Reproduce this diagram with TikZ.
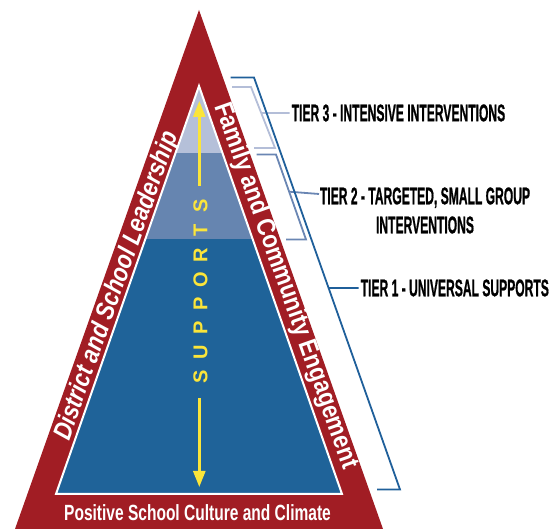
\documentclass[tikz,border=0pt]{standalone}
\usepackage{fontspec}
\setmainfont{Liberation Sans}
\newfontfamily\tierfont[FakeBold=1.3]{Liberation Sans Bold}
\usetikzlibrary{arrows.meta}
\definecolor{pyrred}{HTML}{A11D24}
\definecolor{tierone}{HTML}{1F6399}
\definecolor{tiertwo}{HTML}{6685B0}
\definecolor{tierthree}{HTML}{B5C0D9}
\definecolor{brone}{HTML}{1F5F9A}
\definecolor{brtwo}{HTML}{6A86B3}
\definecolor{brthree}{HTML}{B4BED8}
\definecolor{supyellow}{HTML}{FBE53A}
\begin{document}
\begin{tikzpicture}[x=1pt,y=-1pt,
  tierlabel/.style={font=\tierfont\fontsize{24}{29}\selectfont, text=black, inner sep=0pt, outer sep=2pt, align=center},
  bandtext/.style={text=white, inner sep=0pt},
  bracket/.style={line width=1.8pt, line join=miter},
  suparrow/.style={draw=supyellow, line width=2.6pt, -{Triangle[length=16pt,width=12pt]}},
  supletter/.style={text=supyellow, font=\bfseries\fontsize{20}{20}\selectfont, inner sep=0pt, rotate=90},
]
\useasboundingbox (0,0) rectangle (555,529);
% outer red triangle
\coordinate (apex) at (199,10);
\coordinate (bl) at (15,529);
\coordinate (br) at (383,529);
\fill[pyrred] (apex) -- (bl) -- (br) -- cycle;
% inner tiers
\coordinate (iapex) at (199,86);
\coordinate (ibl) at (56,494);
\coordinate (ibr) at (342,494);
\begin{scope}
  \clip (iapex) -- (ibl) -- (ibr) -- cycle;
  \fill[tierone] (0,239) rectangle (400,500);
  \fill[tiertwo] (0,153.5) rectangle (400,239);
  \fill[tierthree] (0,80) rectangle (400,153.5);
\end{scope}
\draw[white, line width=2pt, line join=miter] (iapex) -- (ibl) -- (ibr) -- cycle;

% band texts
\node[bandtext, rotate=70.5, font=\bfseries\itshape\fontsize{26}{28}\selectfont] (lead) at (117,286) {\scalebox{0.85}[1]{District and School Leadership}};
\node[bandtext, rotate=-70.5, font=\bfseries\fontsize{26}{28}\selectfont] (family) at (285.5,286) {\scalebox{0.86}[1]{Family and Community Engagement}};
\node[bandtext, font=\bfseries\fontsize{22}{24}\selectfont] (culture) at (197.5,513) {\scalebox{0.706}[1]{Positive School Culture and Climate}};

% supports arrow and letters
\coordinate (upstart) at (199.3,186);
\coordinate (uptip) at (199.3,101);
\coordinate (downstart) at (199.3,398);
\coordinate (downtip) at (199.3,487);
\draw[suparrow] (upstart) -- (uptip);
\draw[suparrow] (downstart) -- (downtip);
\foreach \l [count=\i from 0] in {S,U,P,P,O,R,T,S} {
  \node[supletter] (sup\i) at (200.5, 377-24.4*\i) {\l};
}

% tier labels
\node[tierlabel, anchor=west] (tier3) at (289.7,113) {\scalebox{0.504}[1]{TIER 3 - INTENSIVE INTERVENTIONS}};
\node[tierlabel, anchor=center] (tier2) at (425,210.5) {\scalebox{0.504}[1]{TIER 2 - TARGETED, SMALL GROUP}\\\scalebox{0.504}[1]{INTERVENTIONS}};
\node[tierlabel, anchor=west] (tier1) at (358.7,288) {\scalebox{0.504}[1]{TIER 1 - UNIVERSAL SUPPORTS}};

% brackets
\coordinate (b3a) at (232,87);
\coordinate (b3b) at (251,87);
\coordinate (b3c) at (275,148);
\coordinate (b3d) at (254,148);
\draw[bracket, brthree] (b3a) -- (b3b) -- (b3c) -- (b3d);
\draw[bracket, brthree] (intersection of b3b--b3c and tier3.west--tier3.east) -- (tier3.west);

\coordinate (b2a) at (256.5,154.5);
\coordinate (b2b) at (276,154.5);
\coordinate (b2c) at (306,239.5);
\coordinate (b2d) at (286,239.5);
\coordinate (t2s) at (319,194);
\draw[bracket, brtwo] (b2a) -- (b2b) -- (b2c) -- (b2d);
\draw[bracket, brtwo] (intersection of b2b--b2c and t2s--tier2.east) -- (t2s);

\coordinate (b1a) at (230.5,77.5);
\coordinate (b1b) at (254,77.5);
\coordinate (b1c) at (400,489.5);
\coordinate (b1d) at (377,489.5);
\draw[bracket, brone] (b1a) -- (b1b) -- (b1c) -- (b1d);
\draw[bracket, brone] (intersection of b1b--b1c and tier1.west--tier1.east) -- (tier1.west);
\end{tikzpicture}
\end{document}
